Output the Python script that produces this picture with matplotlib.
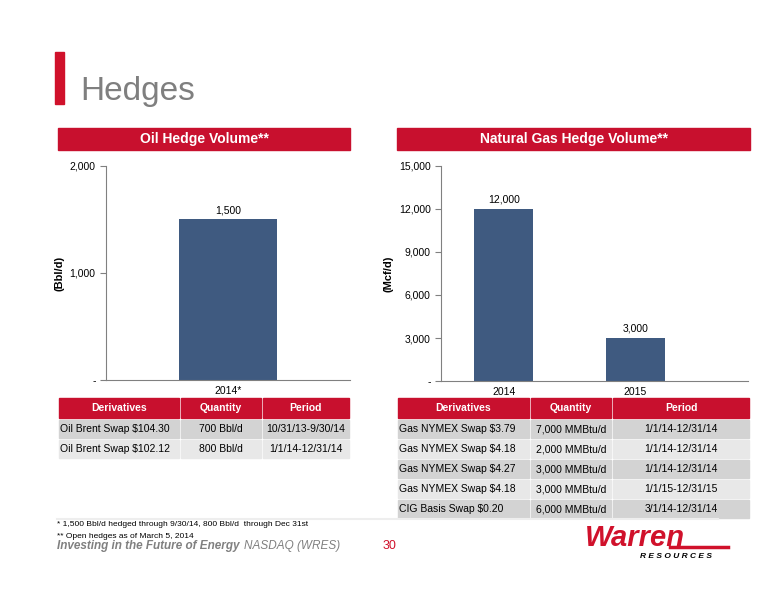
import matplotlib
matplotlib.use("Agg")
import matplotlib.pyplot as plt
from matplotlib.patches import Rectangle

plt.rcParams["font.family"] = ["Liberation Sans", "DejaVu Sans"]

W, H = 776, 600
RED = "#C8102E"
BLUE = "#3F5A80"
GRAY = "#808080"

oil_cats = ["2014*"]
oil_vals = [1500]
oil_ticks = [0, 1000, 2000]
oil_ticklabels = ["-", "1,000", "2,000"]

gas_cats = ["2014", "2015"]
gas_vals = [12000, 3000]
gas_ticks = [0, 3000, 6000, 9000, 12000, 15000]
gas_ticklabels = ["-", "3,000", "6,000", "9,000", "12,000", "15,000"]

table_header = ["Derivatives", "Quantity", "Period"]
oil_rows = [
    ["Oil Brent Swap $104.30", "700 Bbl/d", "10/31/13-9/30/14"],
    ["Oil Brent Swap $102.12", "800 Bbl/d", "1/1/14-12/31/14"],
]
gas_rows = [
    ["Gas NYMEX Swap $3.79", "7,000 MMBtu/d", "1/1/14-12/31/14"],
    ["Gas NYMEX Swap $4.18", "2,000 MMBtu/d", "1/1/14-12/31/14"],
    ["Gas NYMEX Swap $4.27", "3,000 MMBtu/d", "1/1/14-12/31/14"],
    ["Gas NYMEX Swap $4.18", "3,000 MMBtu/d", "1/1/15-12/31/15"],
    ["CIG Basis Swap $0.20", "6,000 MMBtu/d", "3/1/14-12/31/14"],
]


def box(x0, y0, x1, y1):
    return [x0 / W, 1 - y1 / H, (x1 - x0) / W, (y1 - y0) / H]


fig = plt.figure(figsize=(W / 100, H / 100), dpi=100)
bg = fig.add_axes([0, 0, 1, 1])
bg.set_xlim(0, W)
bg.set_ylim(H, 0)
bg.axis("off")

# title
bg.add_patch(Rectangle((55, 52), 9, 52, color="#D0112B"))
bg.text(80, 100, "Hedges", fontsize=24, color="#7F7F7F", va="baseline")

# section headers
for x0, x1, label in [(58, 350, "Oil Hedge Volume**"), (397, 750, "Natural Gas Hedge Volume**")]:
    bg.add_patch(Rectangle((x0, 128), x1 - x0, 22, color=RED))
    bg.text((x0 + x1) / 2, 139, label, color="white", fontsize=10, fontweight="bold",
            ha="center", va="center")


def draw_chart(rect, cats, vals, ticks, ticklabels, ylabel, xlim, width):
    ax = fig.add_axes(box(*rect))
    pos = list(range(len(cats)))
    ax.bar(pos, vals, width=width, color=BLUE)
    for p, v in zip(pos, vals):
        ax.text(p, v + ticks[-1] * 0.02, f"{v:,}", ha="center", va="bottom", fontsize=7.5)
    ax.set_xlim(*xlim)
    ax.set_ylim(0, ticks[-1])
    ax.set_yticks(ticks)
    ax.set_yticklabels(ticklabels, fontsize=7.5)
    ax.set_xticks(pos)
    ax.set_xticklabels(cats, fontsize=7.5)
    ax.tick_params(axis="x", length=0, pad=4)
    ax.tick_params(axis="y", length=4, color=GRAY)
    for s in ["top", "right"]:
        ax.spines[s].set_visible(False)
    for s in ["left", "bottom"]:
        ax.spines[s].set_color(GRAY)
    ax.set_ylabel(ylabel, fontsize=8, fontweight="bold", labelpad=4)
    ax.patch.set_alpha(0)
    return ax


draw_chart((106, 166, 350, 380), oil_cats, oil_vals, oil_ticks, oil_ticklabels,
           "(Bbl/d)", (-1.25, 1.25), 1.0)
draw_chart((441, 166, 748, 381), gas_cats, gas_vals, gas_ticks, gas_ticklabels,
           "(Mcf/d)", (-0.48, 1.86), 0.45)


def draw_table(cols, rows):
    top = 398
    rh = 20
    for i in range(3):
        x0, x1 = cols[i], cols[i + 1]
        bg.add_patch(Rectangle((x0 + 1, top), x1 - x0 - 2, rh, color=RED))
        bg.text((x0 + x1) / 2, top + rh / 2, table_header[i], color="white", fontsize=7.5,
                fontweight="bold", ha="center", va="center")
    for r, row in enumerate(rows):
        y = top + rh + 2 + r * rh
        fc = "#D3D3D3" if r % 2 == 0 else "#E8E8E8"
        for i in range(3):
            x0, x1 = cols[i], cols[i + 1]
            bg.add_patch(Rectangle((x0 + 1, y), x1 - x0 - 2, rh - 2, color=fc))
            if i == 0:
                bg.text(x0 + 2, y + rh / 2 - 1, row[i], fontsize=7.5, ha="left", va="center")
            else:
                bg.text((x0 + x1) / 2, y + rh / 2 - 1, row[i], fontsize=7.5, ha="center", va="center")


draw_table([58, 180, 262, 350], oil_rows)
draw_table([397, 530, 612, 750], gas_rows)

# footnotes and footer
bg.plot([57, 718], [519, 519], color="#EEEEEE", lw=1.5)
bg.text(57, 524, "* 1,500 Bbl/d hedged through 9/30/14, 800 Bbl/d  through Dec 31st",
        fontsize=6, va="center")
bg.text(57, 536, "** Open hedges as of March 5, 2014", fontsize=6, va="center")
bg.text(57, 546, "Investing in the Future of Energy", fontsize=8.5, fontweight="bold",
        fontstyle="italic", color=GRAY, va="center")
bg.text(244, 546, "NASDAQ (WRES)", fontsize=8.5, fontstyle="italic", color=GRAY, va="center")
bg.text(383, 546, "30", fontsize=9, color="#D0112B", va="center")
bg.plot([670, 728], [547, 547], color="#D0112B", lw=2.5, zorder=1)
bg.text(585, 538, "Warren", fontsize=21, fontweight="bold", fontstyle="italic",
        color="#D0112B", va="center", zorder=2)
bg.text(640, 556, "R E S O U R C E S", fontsize=6, fontweight="bold", fontstyle="italic",
        va="center")

fig.savefig("out.png", dpi=100)
